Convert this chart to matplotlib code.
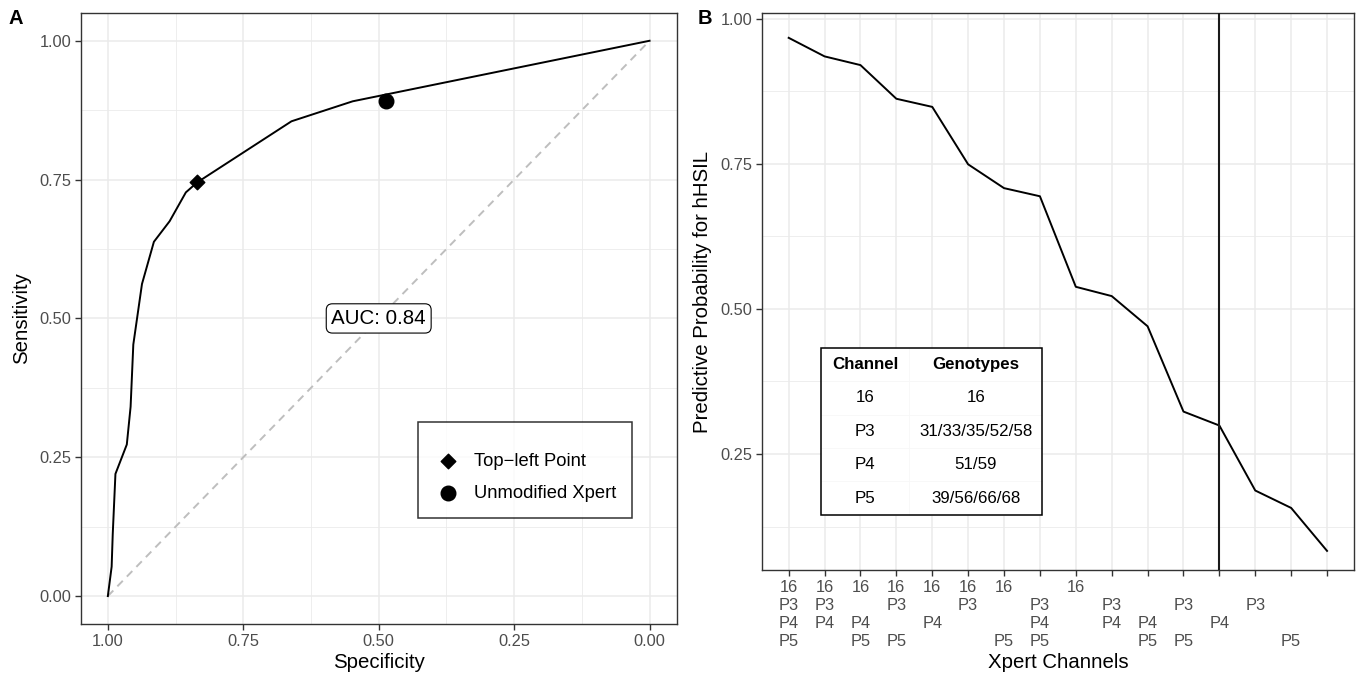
import matplotlib
matplotlib.use("Agg")
import matplotlib.pyplot as plt
from matplotlib.patches import Rectangle
from matplotlib.ticker import MultipleLocator, FixedLocator

plt.rcParams['font.family'] = ['Liberation Sans', 'DejaVu Sans']

# ---------------- data: panel A (ROC) ----------------
roc_specificity = [1.000, 0.993, 0.991, 0.986, 0.965, 0.958, 0.953, 0.937,
                   0.915, 0.886, 0.856, 0.835, 0.661, 0.548, 0.000]
roc_sensitivity = [0.000, 0.053, 0.111, 0.220, 0.273, 0.341, 0.453, 0.562,
                   0.638, 0.675, 0.727, 0.745, 0.855, 0.891, 1.000]
topleft_spec, topleft_sens = 0.835, 0.745
unmod_spec, unmod_sens = 0.486, 0.891
auc_text = "AUC: 0.84"
a_ticks = [0.00, 0.25, 0.50, 0.75, 1.00]
a_tick_labels = ["0.00", "0.25", "0.50", "0.75", "1.00"]

# ---------------- data: panel B ----------------
b_positions = list(range(1, 17))
b_prob = [0.967, 0.935, 0.920, 0.862, 0.848, 0.749, 0.708, 0.694,
          0.538, 0.522, 0.470, 0.323, 0.299, 0.187, 0.157, 0.083]
b_has_16 = [1, 1, 1, 1, 1, 1, 1, 0, 1, 0, 0, 0, 0, 0, 0, 0]
b_has_P3 = [1, 1, 0, 1, 0, 1, 0, 1, 0, 1, 0, 1, 0, 1, 0, 0]
b_has_P4 = [1, 1, 1, 0, 1, 0, 0, 1, 0, 1, 1, 0, 1, 0, 0, 0]
b_has_P5 = [1, 0, 1, 1, 0, 0, 1, 1, 0, 0, 1, 1, 0, 0, 1, 0]
b_cutoff = 13
b_yticks = [0.25, 0.50, 0.75, 1.00]
b_ytick_labels = ["0.25", "0.50", "0.75", "1.00"]
table_channels = ["16", "P3", "P4", "P5"]
table_genotypes = ["16", "31/33/35/52/58", "51/59", "39/56/66/68"]

TICK_C = "#4D4D4D"
FRAME_C = "#333333"
GRID_C = "#EBEBEB"

fig = plt.figure(figsize=(13.62, 6.77), dpi=100)
axA = fig.add_axes([0.0593, 0.0785, 0.4375, 0.9023])
axB = fig.add_axes([0.5593, 0.1580, 0.4348, 0.8224])

def style(ax):
    for s in ax.spines.values():
        s.set_color(FRAME_C)
        s.set_linewidth(1.0)
    ax.tick_params(axis='both', which='major', colors=FRAME_C, labelcolor=TICK_C,
                   labelsize=11.8, length=4, width=1.0, pad=3)
    ax.tick_params(axis='both', which='minor', length=0)
    ax.grid(True, which='major', color=GRID_C, linewidth=1.1, zorder=0)
    ax.grid(True, which='minor', color=GRID_C, linewidth=0.6, zorder=0)
    ax.set_axisbelow(True)

# ---------------- Panel A ----------------
style(axA)
axA.set_xlim(1.05, -0.05)
axA.set_ylim(-0.05, 1.05)
axA.set_xticks(a_ticks)
axA.set_xticklabels(a_tick_labels)
axA.set_yticks(a_ticks)
axA.set_yticklabels(a_tick_labels)
axA.xaxis.set_minor_locator(MultipleLocator(0.125))
axA.yaxis.set_minor_locator(MultipleLocator(0.125))
axA.plot([1, 0], [0, 1], color="#BEBEBE", linestyle=(0, (4, 3)), linewidth=1.4, zorder=2)
axA.plot(roc_specificity, roc_sensitivity, color="black", linewidth=1.4, zorder=3)
axA.scatter([topleft_spec], [topleft_sens], marker='D', s=55, color='black', zorder=4,
            label="Top\u2212left Point")
axA.scatter([unmod_spec], [unmod_sens], marker='o', s=110, color='black', zorder=4,
            label="Unmodified Xpert")
axA.text(0.5, 0.5, auc_text, ha='center', va='center', fontsize=14.8, zorder=5,
         bbox=dict(boxstyle='round,pad=0.25,rounding_size=0.3', fc='white', ec='black', lw=0.8))
axA.set_xlabel("Specificity", fontsize=14.7, labelpad=3)
axA.set_ylabel("Sensitivity", fontsize=14.7, labelpad=6)
leg = axA.legend(loc='lower left', bbox_to_anchor=(0.566, 0.1735), frameon=True,
                 fontsize=13.2, title=" ", title_fontsize=1.5, borderpad=0.85,
                 handletextpad=0.6, labelspacing=0.82, borderaxespad=0,
                 scatterpoints=1, fancybox=False, handlelength=1.6)
leg.get_frame().set_edgecolor('black')
leg.get_frame().set_linewidth(1.1)
fig.text(0.006, 0.972, "A", fontsize=14.5, fontweight='bold', ha='left', va='center')

# ---------------- Panel B ----------------
style(axB)
axB.set_xlim(0.25, 16.75)
axB.set_ylim(0.05, 1.0093)
axB.set_yticks(b_yticks)
axB.set_yticklabels(b_ytick_labels)
axB.yaxis.set_minor_locator(FixedLocator([0.125, 0.375, 0.625, 0.875]))
axB.grid(False, which='minor', axis='x')
axB.set_xticks(b_positions)
labels = []
for i in range(len(b_positions)):
    rows = ["16" if b_has_16[i] else "",
            "P3" if b_has_P3[i] else "",
            "P4" if b_has_P4[i] else "",
            "P5" if b_has_P5[i] else ""]
    labels.append("\n".join(rows))
axB.set_xticklabels(labels, linespacing=1.25, va='top')
axB.tick_params(axis='x', labelsize=11.8)
axB.plot(b_positions, b_prob, color='black', linewidth=1.4, zorder=3)
axB.axvline(b_cutoff, color='#1a1a1a', linewidth=1.5, zorder=3)
axB.set_xlabel("Xpert Channels", fontsize=14.7, labelpad=3)
axB.set_ylabel("Predictive Probability for hHSIL", fontsize=14.7, labelpad=6)
fig.text(0.5125, 0.972, "B", fontsize=14.5, fontweight='bold', ha='left', va='center')

# table inset
tb_x0, tb_y0, tb_w, tb_h = 0.0996, 0.0991, 0.3742, 0.3002
cell_text = [[c, g] for c, g in zip(table_channels, table_genotypes)]
tbl = axB.table(cellText=cell_text, colLabels=["Channel", "Genotypes"],
                cellLoc='center', colWidths=[0.4, 0.6],
                bbox=[tb_x0, tb_y0, tb_w, tb_h], zorder=6)
tbl.auto_set_font_size(False)
tbl.set_fontsize(12.2)
for (r, c), cell in tbl.get_celld().items():
    cell.set_edgecolor('#F7F7F7')
    cell.set_linewidth(0.5)
    cell.set_facecolor('white')
    if r == 0:
        cell.get_text().set_fontweight('bold')
axB.add_patch(Rectangle((tb_x0, tb_y0), tb_w, tb_h, transform=axB.transAxes,
                        fill=False, edgecolor='black', linewidth=1.1, zorder=7))

fig.savefig("out.png", dpi=100, facecolor='white')
